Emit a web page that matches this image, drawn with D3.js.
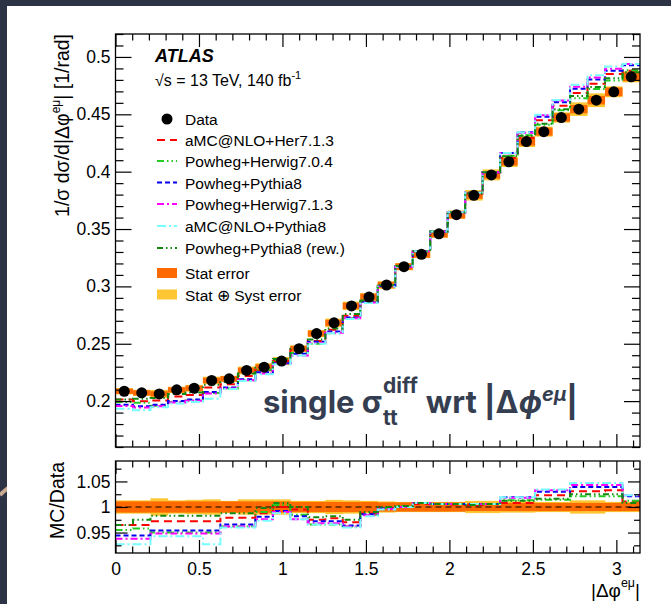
<!DOCTYPE html>
<html><head><meta charset="utf-8">
<script src="https://cdn.jsdelivr.net/npm/d3@7"></script>
<style>
html,body{margin:0;padding:0;background:#2c3345;}
svg{display:block;}
</style></head><body>
<svg id="chart" width="671" height="604"></svg>
<script>
// Normalised differential cross-section in |Δφ(eμ)|, 30 bins over [0, π]
const nBins = 30;
const dataValues = [0.2086, 0.2072, 0.2063, 0.2098, 0.2112, 0.2180, 0.2194, 0.2267, 0.2296, 0.2349,
                    0.2457, 0.2589, 0.2682, 0.2830, 0.2907, 0.3012, 0.3172, 0.3280, 0.3458, 0.3625,
                    0.3794, 0.3972, 0.4086, 0.4262, 0.4349, 0.4472, 0.4545, 0.4623, 0.4696, 0.4827];
// relative uncertainties
const statRel  = [0.011, 0.011, 0.011, 0.011, 0.011, 0.011, 0.011, 0.011, 0.011, 0.011,
                  0.010, 0.010, 0.010, 0.010, 0.010, 0.009, 0.009, 0.009, 0.009, 0.009,
                  0.008, 0.008, 0.008, 0.008, 0.008, 0.008, 0.008, 0.008, 0.008, 0.008];
const totalRel = [0.013, 0.013, 0.017, 0.013, 0.014, 0.015, 0.012, 0.015, 0.015, 0.015,
                  0.012, 0.012, 0.014, 0.013, 0.012, 0.011, 0.010, 0.010, 0.010, 0.010,
                  0.012, 0.012, 0.011, 0.011, 0.010, 0.010, 0.013, 0.013, 0.010, 0.010];
// MC / Data per generator setup
const ratioAmcHer713 = [0.965, 0.965, 0.972, 0.972, 0.972, 0.972, 0.979, 0.979, 0.988, 1.000,
                        0.995, 0.975, 0.978, 0.970, 0.988, 0.998, 1.000, 1.006, 1.006, 1.005,
                        1.004, 1.006, 1.008, 1.008, 1.023, 1.023, 1.031, 1.031, 1.033, 1.011];
const ratioPowHer704 = [0.955, 0.958, 0.950, 0.950, 0.950, 0.950, 0.962, 0.962, 0.990, 1.004,
                        0.985, 0.966, 0.966, 0.962, 0.985, 0.998, 1.002, 1.008, 1.006, 1.006,
                        1.006, 1.006, 1.013, 1.013, 1.014, 1.014, 1.021, 1.021, 1.021, 1.012];
const ratioPowPy8    = [0.944, 0.944, 0.954, 0.954, 0.954, 0.954, 0.966, 0.966, 0.981, 0.992,
                        0.982, 0.972, 0.972, 0.964, 0.986, 0.997, 1.000, 1.008, 1.006, 1.006,
                        1.006, 1.006, 1.019, 1.019, 1.030, 1.030, 1.039, 1.039, 1.039, 1.021];
const ratioPowHer713 = [0.938, 0.938, 0.948, 0.948, 0.948, 0.948, 0.962, 0.962, 0.976, 0.990,
                        0.976, 0.968, 0.968, 0.962, 0.984, 0.996, 1.000, 1.008, 1.006, 1.006,
                        1.006, 1.006, 1.018, 1.018, 1.033, 1.033, 1.043, 1.043, 1.043, 1.023];
const ratioAmcPy8    = [0.927, 0.927, 0.943, 0.943, 0.943, 0.927, 0.960, 0.960, 0.973, 0.988,
                        0.976, 0.966, 0.966, 0.960, 0.982, 0.995, 1.000, 1.008, 1.006, 1.006,
                        1.006, 1.006, 1.019, 1.019, 1.034, 1.034, 1.047, 1.047, 1.047, 1.023];
const ratioPowPy8Rew = [0.965, 0.975, 0.983, 0.983, 0.983, 0.983, 0.988, 0.988, 0.998, 1.008,
                        1.000, 0.980, 0.982, 0.975, 0.990, 1.000, 1.002, 1.008, 1.006, 1.006,
                        1.004, 1.006, 1.012, 1.012, 1.016, 1.016, 1.025, 1.025, 1.025, 1.008];

const seriesNames  = ["aMC@NLO+Her7.1.3", "Powheg+Herwig7.0.4", "Powheg+Pythia8",
                      "Powheg+Herwig7.1.3", "aMC@NLO+Pythia8", "Powheg+Pythia8 (rew.)"];
const seriesRatios = [ratioAmcHer713, ratioPowHer704, ratioPowPy8, ratioPowHer713, ratioAmcPy8, ratioPowPy8Rew];
const seriesColors = ["#ff0000", "#22cc22", "#0000ee", "#ff00ff", "#77ffff", "#118811"];
const seriesDashes = ["8,5", "7,3,1.5,3,1.5,3", "5,3", "7,3,2,3", "9,3,2,3", "6,3,1.5,3,1.5,3"];

const xMajorTicks = [0, 0.5, 1, 1.5, 2, 2.5, 3];
const xTickLabels = ["0", "0.5", "1", "1.5", "2", "2.5", "3"];
const yMajorTicks = [0.2, 0.25, 0.3, 0.35, 0.4, 0.45, 0.5];
const yTickLabels = ["0.2", "0.25", "0.3", "0.35", "0.4", "0.45", "0.5"];
const rMajorTicks = [0.95, 1, 1.05];
const rTickLabels = ["0.95", "1", "1.05"];

const ROOTFONT = "'Liberation Sans', Arial, Helvetica, sans-serif";
const svg = d3.select("#chart");
const W = 671, H = 604;

// page backdrop and white card
svg.append("rect").attr("width", W).attr("height", H).attr("fill", "#2c3345");
svg.append("path").attr("d", "M0,495 Q4,491 8,488").attr("stroke", "#c9ab92")
   .attr("stroke-width", 4).attr("fill", "none");
svg.append("rect").attr("x", 7).attr("y", 6).attr("width", W - 7).attr("height", H - 6).attr("fill", "#fff");

const L = 115.5, R = 640;
const top1 = 34, bot1 = 447, top2 = 461, bot2 = 553;

const edges = d3.range(nBins + 1).map(i => i * Math.PI / nBins);
const x = d3.scaleLinear().domain([0, Math.PI]).range([L, R]);
const y = d3.scaleLinear().domain([0.16, 0.52]).range([bot1, top1]);
const yr = d3.scaleLinear().domain([0.91, 1.09]).range([bot2, top2]);

const defs = svg.append("defs");
defs.append("clipPath").attr("id", "clipMain").append("rect")
    .attr("x", L).attr("y", top1).attr("width", R - L).attr("height", bot1 - top1);
defs.append("clipPath").attr("id", "clipRatio").append("rect")
    .attr("x", L).attr("y", top2).attr("width", R - L).attr("height", bot2 - top2);

const bins = dataValues.map((v, i) => ({i, x0: edges[i], x1: edges[i + 1], v,
  stat: v * statRel[i], tot: v * totalRel[i]}));

const stepLine = (yScale) => d3.line().x(d => x(d[0])).y(d => yScale(d[1])).curve(d3.curveStepAfter);
const stepPoints = vals => vals.map((v, i) => [edges[i], v]).concat([[edges[nBins], vals[nBins - 1]]]);

// ---------- main panel ----------
const gMain = svg.append("g").attr("clip-path", "url(#clipMain)");
gMain.selectAll("rect.tot").data(bins).join("rect").attr("class", "tot")
  .attr("x", d => x(d.x0)).attr("width", d => x(d.x1) - x(d.x0))
  .attr("y", d => y(d.v + d.tot)).attr("height", d => y(d.v - d.tot) - y(d.v + d.tot))
  .attr("fill", "#fdc632");
gMain.selectAll("rect.stat").data(bins).join("rect").attr("class", "stat")
  .attr("x", d => x(d.x0)).attr("width", d => x(d.x1) - x(d.x0))
  .attr("y", d => y(d.v + d.stat)).attr("height", d => y(d.v - d.stat) - y(d.v + d.stat))
  .attr("fill", "#ff6a00");
seriesRatios.forEach((rat, k) => {
  const pred = rat.map((r, i) => r * dataValues[i]);
  gMain.append("path").attr("d", stepLine(y)(stepPoints(pred)))
    .attr("fill", "none").attr("stroke", seriesColors[k]).attr("stroke-width", 2)
    .attr("stroke-dasharray", seriesDashes[k]);
});
gMain.selectAll("circle").data(bins).join("circle")
  .attr("cx", d => x((d.x0 + d.x1) / 2)).attr("cy", d => y(d.v)).attr("r", 5.5).attr("fill", "#000");

// ---------- ratio panel ----------
const gRatio = svg.append("g").attr("clip-path", "url(#clipRatio)");
gRatio.selectAll("rect.tot").data(bins).join("rect").attr("class", "tot")
  .attr("x", d => x(d.x0)).attr("width", d => x(d.x1) - x(d.x0) + 0.3)
  .attr("y", d => yr(1 + totalRel[d.i])).attr("height", d => yr(1 - totalRel[d.i]) - yr(1 + totalRel[d.i]))
  .attr("fill", "#fdc632");
gRatio.selectAll("rect.stat").data(bins).join("rect").attr("class", "stat")
  .attr("x", d => x(d.x0)).attr("width", d => x(d.x1) - x(d.x0) + 0.3)
  .attr("y", d => yr(1 + statRel[d.i])).attr("height", d => yr(1 - statRel[d.i]) - yr(1 + statRel[d.i]))
  .attr("fill", "#ff6a00");
gRatio.append("line").attr("x1", L).attr("x2", R).attr("y1", yr(1)).attr("y2", yr(1))
  .attr("stroke", "#000").attr("stroke-width", 1).attr("stroke-dasharray", "6,4");
seriesRatios.forEach((rat, k) => {
  gRatio.append("path").attr("d", stepLine(yr)(stepPoints(rat)))
    .attr("fill", "none").attr("stroke", seriesColors[k]).attr("stroke-width", 2)
    .attr("stroke-dasharray", seriesDashes[k]);
});

// ---------- axes ----------
function drawTicks(gen, scale, vals, size, tx, ty, labels, fontSize) {
  const ax = gen(scale).tickValues(vals).tickSizeInner(-size).tickSizeOuter(0).tickPadding(5)
    .tickFormat(labels ? ((d, i) => labels[i]) : () => "");
  const g = svg.append("g").attr("transform", `translate(${tx},${ty})`).call(ax);
  g.select(".domain").remove();
  g.selectAll(".tick line").attr("stroke", "#000").attr("stroke-width", 1.2);
  g.selectAll(".tick text").attr("font-size", fontSize || 17.5).attr("fill", "#000")
    .style("font-family", ROOTFONT);
  return g;
}
const minorOf = (lo, hi, step, majors) => d3.range(Math.round((hi - lo) / step) + 1)
  .map(i => +(lo + i * step).toFixed(4)).filter(v => !majors.some(m => Math.abs(m - v) < 1e-6));

const xMinor = minorOf(0, 3.1, 0.1, xMajorTicks);
const yMinor = minorOf(0.16, 0.52, 0.01, yMajorTicks);
const rMinor = [0.925, 0.975, 1.025, 1.075];

// main panel frame ticks
drawTicks(d3.axisBottom, x, xMajorTicks, 13, 0, bot1, null);
drawTicks(d3.axisBottom, x, xMinor, 6.5, 0, bot1, null);
drawTicks(d3.axisTop, x, xMajorTicks, 13, 0, top1, null);
drawTicks(d3.axisTop, x, xMinor, 6.5, 0, top1, null);
drawTicks(d3.axisLeft, y, yMajorTicks, 16, L, 0, yTickLabels);
drawTicks(d3.axisLeft, y, yMinor, 8, L, 0, null);
drawTicks(d3.axisRight, y, yMajorTicks, 16, R, 0, null);
drawTicks(d3.axisRight, y, yMinor, 8, R, 0, null);
// ratio panel frame ticks
drawTicks(d3.axisBottom, x, xMajorTicks, 13, 0, bot2, xTickLabels).selectAll(".tick text").attr("dy", "0.95em");
drawTicks(d3.axisBottom, x, xMinor, 6.5, 0, bot2, null);
drawTicks(d3.axisTop, x, xMajorTicks, 13, 0, top2, null);
drawTicks(d3.axisTop, x, xMinor, 6.5, 0, top2, null);
drawTicks(d3.axisLeft, yr, rMajorTicks, 12, L, 0, rTickLabels);
drawTicks(d3.axisLeft, yr, rMinor, 6, L, 0, null);
drawTicks(d3.axisRight, yr, rMajorTicks, 12, R, 0, null);
drawTicks(d3.axisRight, yr, rMinor, 6, R, 0, null);

svg.append("rect").attr("x", L).attr("y", top1).attr("width", R - L).attr("height", bot1 - top1)
  .attr("fill", "none").attr("stroke", "#000").attr("stroke-width", 1.3);
svg.append("rect").attr("x", L).attr("y", top2).attr("width", R - L).attr("height", bot2 - top2)
  .attr("fill", "none").attr("stroke", "#000").attr("stroke-width", 1.3);

// axis titles
const yTitle = svg.append("text").attr("transform", `translate(69,${top1}) rotate(-90)`)
  .attr("text-anchor", "end").attr("font-size", 19.5).attr("fill", "#000").style("font-family", ROOTFONT);
yTitle.append("tspan").text("1/σ dσ/d|Δφ");
yTitle.append("tspan").attr("dy", -9).attr("font-size", 12).text("eμ");
yTitle.append("tspan").attr("dy", 9).text("| [1/rad]");

svg.append("text").attr("transform", `translate(64,${top2 + 1}) rotate(-90)`)
  .attr("text-anchor", "end").attr("font-size", 19.5).attr("fill", "#000")
  .style("font-family", ROOTFONT).text("MC/Data");

const xTitle = svg.append("text").attr("x", R).attr("y", 597).attr("text-anchor", "end")
  .attr("font-size", 19).attr("fill", "#000").style("font-family", ROOTFONT);
xTitle.append("tspan").text("|Δφ");
xTitle.append("tspan").attr("dy", -10).attr("font-size", 12.5).text("eμ");
xTitle.append("tspan").attr("dy", 10).text("|");

// ATLAS label
svg.append("text").attr("x", 155).attr("y", 62).attr("font-size", 18).style("font-family", ROOTFONT)
  .attr("font-weight", "bold").attr("font-style", "italic").attr("fill", "#000").text("ATLAS");
const lumi = svg.append("text").attr("x", 155).attr("y", 86).attr("font-size", 16)
  .attr("fill", "#000").style("font-family", ROOTFONT);
lumi.append("tspan").text("√s = 13 TeV, 140 fb");
lumi.append("tspan").attr("dy", -7).attr("font-size", 11).text("-1");

// legend
const legX = 157, legW = 20, legTextX = 185, legFont = 15.5;
const rowY = [119, 140, 161, 182.5, 204, 226, 248, 273, 294.5];
const legText = (yy, s) => svg.append("text").attr("x", legTextX).attr("y", yy + 6)
  .attr("font-size", legFont).attr("fill", "#000").style("font-family", ROOTFONT).text(s);
svg.append("circle").attr("cx", legX + legW / 2).attr("cy", rowY[0]).attr("r", 5.5).attr("fill", "#000");
legText(rowY[0], "Data");
seriesNames.forEach((name, k) => {
  const yy = rowY[k + 1];
  svg.append("line").attr("x1", legX).attr("x2", legX + legW).attr("y1", yy).attr("y2", yy)
    .attr("stroke", seriesColors[k]).attr("stroke-width", 2).attr("stroke-dasharray", seriesDashes[k]);
  legText(yy, name);
});
svg.append("rect").attr("x", legX).attr("y", rowY[7] - 5).attr("width", legW).attr("height", 10).attr("fill", "#ff6a00");
legText(rowY[7], "Stat error");
svg.append("rect").attr("x", legX).attr("y", rowY[8] - 5).attr("width", legW).attr("height", 10).attr("fill", "#fdc632");
legText(rowY[8], "Stat ⊕ Syst error");

// overlay heading
const hc = "#353e51", hf = "Inter, 'Open Sans', sans-serif";
const hx = 263, hy = 413;
const heading = (xx, yy, size, s) => svg.append("text").attr("x", xx).attr("y", yy)
  .style("font-family", hf).attr("font-weight", 700).attr("font-size", size).style("fill", hc).text(s);
const h1 = heading(hx, hy, 31, "single σ");
const w1 = h1.node().getComputedTextLength();
const subT = heading(hx + w1 + 1, hy + 12, 21, "tt");
const supT = heading(hx + w1 + 1, hy - 20, 21, "diff");
const w2 = Math.max(subT.node().getComputedTextLength(), supT.node().getComputedTextLength());
const h2 = heading(hx + w1 + 1 + w2 + 8, hy, 31, null);
h2.append("tspan").text("wrt |Δ");
h2.append("tspan").attr("font-style", "italic").text("ϕ");
h2.append("tspan").attr("font-style", "italic").attr("font-size", 20).attr("dy", -12).text("eμ");
h2.append("tspan").attr("dy", 12).text("|");
</script></body></html>
